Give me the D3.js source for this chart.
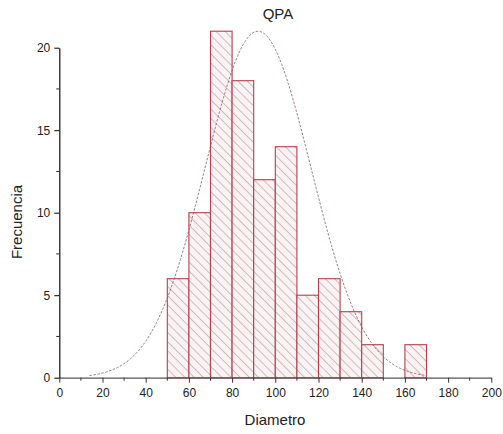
<!DOCTYPE html>
<html>
<head>
<meta charset="utf-8">
<script src="https://cdn.jsdelivr.net/npm/d3@7"></script>
<style>
  body { margin: 0; background: #fff; }
  text { font-family: "Liberation Sans", Arial, sans-serif; fill: #222; }
</style>
</head>
<body>
<svg id="chart" width="503" height="434"></svg>
<script>
// bin edges (Diametro) and counts (Frecuencia)
var binStart = [50, 60, 70, 80, 90, 100, 110, 120, 130, 140, 150, 160];
var binEnd   = [60, 70, 80, 90, 100, 110, 120, 130, 140, 150, 160, 170];
var counts   = [6, 10, 21, 18, 12, 14, 5, 6, 4, 2, 0, 2];

var xTicks = [0, 20, 40, 60, 80, 100, 120, 140, 160, 180, 200];
var yTicks = [0, 5, 10, 15, 20];

// fitted normal curve parameters
var fitMean = 92, fitSd = 24.5, fitPeak = 21;
var fitFrom = 14, fitTo = 170;

(function() {
  var svg = d3.select("#chart");

  var x = d3.scaleLinear().domain([0, 200]).range([59.3, 491.3]);
  var y = d3.scaleLinear().domain([0, 20]).range([377.7, 47.7]);

  var defs = svg.append("defs");
  var pat = defs.append("pattern")
    .attr("id", "hatch")
    .attr("patternUnits", "userSpaceOnUse")
    .attr("width", 6.5)
    .attr("height", 6.5)
    .attr("patternTransform", "rotate(-45)");
  pat.append("rect")
    .attr("width", 6.5).attr("height", 6.5)
    .attr("fill", "#fcf1f3");
  pat.append("line")
    .attr("x1", 0).attr("y1", 0).attr("x2", 0).attr("y2", 6.5)
    .attr("stroke", "#707070")
    .attr("stroke-width", 0.75);

  var bins = counts.map(function(c, i) {
    return { x0: binStart[i], x1: binEnd[i], n: c };
  }).filter(function(d) { return d.n > 0; });

  svg.append("g").selectAll("rect")
    .data(bins)
    .enter().append("rect")
    .attr("x", function(d) { return x(d.x0); })
    .attr("y", function(d) { return y(d.n); })
    .attr("width", function(d) { return x(d.x1) - x(d.x0); })
    .attr("height", function(d) { return y(0) - y(d.n); })
    .attr("fill", "url(#hatch)")
    .attr("stroke", "#b4404c")
    .attr("stroke-width", 1.1);

  // normal distribution curve
  var pts = d3.range(fitFrom, fitTo + 0.5, 1).map(function(v) {
    var z = (v - fitMean) / fitSd;
    return [v, fitPeak * Math.exp(-0.5 * z * z)];
  });
  svg.append("path")
    .datum(pts)
    .attr("fill", "none")
    .attr("stroke", "#8c5a64")
    .attr("stroke-width", 0.8)
    .attr("stroke-dasharray", "2.5,1.5")
    .attr("d", d3.line()
      .x(function(d) { return x(d[0]); })
      .y(function(d) { return y(d[1]); }));

  // x axis
  var xAxis = svg.append("g")
    .attr("transform", "translate(0," + y(0) + ")")
    .call(d3.axisBottom(x).tickValues(xTicks).tickSize(5).tickSizeOuter(0));
  xAxis.append("g").selectAll("line")
    .data(d3.range(10, 200, 20))
    .enter().append("line")
    .attr("x1", function(d) { return x(d); })
    .attr("x2", function(d) { return x(d); })
    .attr("y1", 0).attr("y2", 3)
    .attr("stroke", "#333");

  // y axis
  var yAxis = svg.append("g")
    .attr("transform", "translate(" + x(0) + ",0)")
    .call(d3.axisLeft(y).tickValues(yTicks).tickSize(5).tickSizeOuter(0));
  yAxis.append("g").selectAll("line")
    .data([2.5, 7.5, 12.5, 17.5])
    .enter().append("line")
    .attr("y1", function(d) { return y(d); })
    .attr("y2", function(d) { return y(d); })
    .attr("x1", 0).attr("x2", -3)
    .attr("stroke", "#222");

  svg.selectAll(".tick text")
    .style("font-size", "12px")
    .style("font-family", "Liberation Sans, Arial, sans-serif")
    .attr("fill", "#222");
  xAxis.select(".domain").attr("stroke", "#555").attr("stroke-width", 1.3);
  xAxis.selectAll(".tick line").attr("stroke", "#333");
  yAxis.select(".domain").attr("stroke", "#222").attr("stroke-width", 1.3);
  xAxis.selectAll(".tick text").attr("dy", "0.95em");
  yAxis.selectAll(".tick text").attr("x", -9);

  svg.append("text")
    .attr("x", 278).attr("y", 19)
    .attr("text-anchor", "middle")
    .style("font-size", "15px")
    .text("QPA");

  svg.append("text")
    .attr("x", 275).attr("y", 425)
    .attr("text-anchor", "middle")
    .style("font-size", "15px")
    .text("Diametro");

  svg.append("text")
    .attr("transform", "translate(22,222) rotate(-90)")
    .attr("text-anchor", "middle")
    .style("font-size", "15px")
    .text("Frecuencia");
}());
</script>
</body>
</html>
